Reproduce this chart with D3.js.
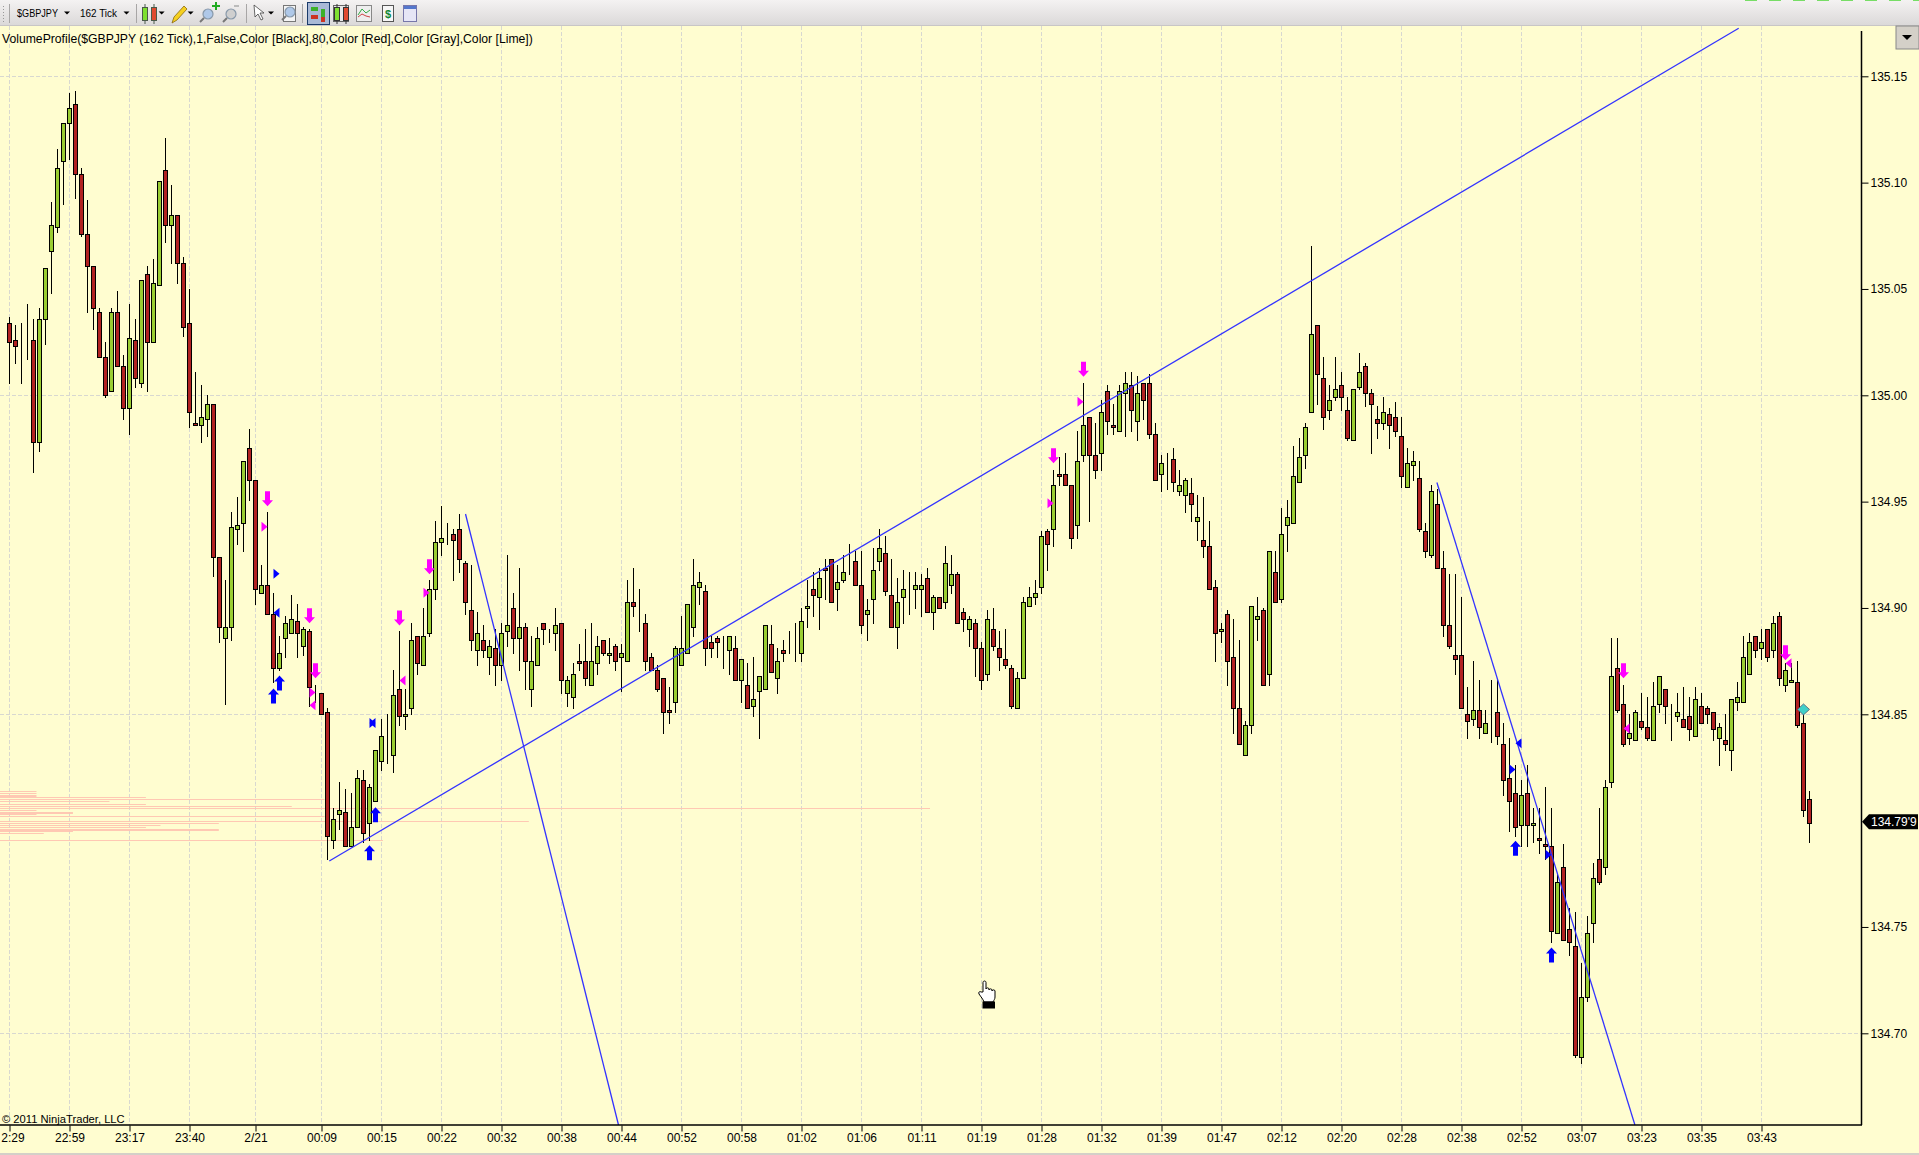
<!DOCTYPE html>
<html><head><meta charset="utf-8">
<style>html,body{margin:0;padding:0;background:#FFFDD0;overflow:hidden}svg{display:block;font-family:"Liberation Sans",Arial,sans-serif}</style>
<script src="https://cdn.jsdelivr.net/npm/d3@7"></script></head><body><svg id="c" width="1919" height="1155"></svg>
<script>
const highs=[135.037,135.033,135.034,135.043,135.036,135.041,135.060,135.091,135.116,135.128,
135.142,135.143,135.107,135.092,135.061,135.041,135.025,135.041,135.049,135.019,
135.043,135.036,135.054,135.061,135.064,135.101,135.121,135.099,135.085,135.065,
135.050,135.011,135.005,135.000,134.996,134.924,134.913,134.945,134.952,134.969,
134.984,134.960,134.920,134.945,134.907,134.887,134.896,134.906,134.902,134.891,
134.890,134.864,134.860,134.853,134.806,134.818,134.815,134.813,134.824,134.824,
134.817,134.833,134.848,134.850,134.871,134.889,134.862,134.893,134.887,134.900,
134.913,134.941,134.948,134.940,134.937,134.944,134.922,134.920,134.898,134.892,
134.885,134.890,134.893,134.925,134.907,134.919,134.893,134.887,134.891,134.893,
134.890,134.900,134.893,134.868,134.874,134.883,134.890,134.893,134.887,134.885,
134.886,134.883,134.883,134.913,134.919,134.909,134.897,134.879,134.873,134.867,
134.863,134.882,134.896,134.902,134.923,134.917,134.911,134.887,134.887,134.887,
134.887,134.887,134.876,134.874,134.877,134.868,134.892,134.892,134.881,134.885,
134.889,134.893,134.900,134.913,134.917,134.919,134.923,134.923,134.920,134.925,
134.930,134.927,134.927,134.904,134.928,134.937,134.934,134.923,134.914,134.918,
134.917,134.917,134.916,134.919,134.906,134.905,134.929,134.925,134.917,134.900,
134.896,134.895,134.884,134.899,134.900,134.889,134.890,134.873,134.870,134.905,
134.910,134.913,134.936,134.937,134.965,134.971,134.973,134.958,134.983,135.006,
134.990,134.987,134.998,135.005,134.996,135.005,135.011,135.011,135.009,135.006,
135.010,134.987,134.972,134.973,134.975,134.965,134.961,134.961,134.953,134.952,
134.941,134.913,134.893,134.899,134.895,134.885,134.847,134.901,134.905,134.900,
134.927,134.927,134.947,134.951,134.976,134.980,134.987,135.070,135.033,135.018,
135.005,135.018,135.011,134.999,135.003,135.020,135.015,135.003,134.995,134.999,
134.994,134.997,134.990,134.975,134.974,134.969,134.940,134.958,134.956,134.927,
134.916,134.916,134.905,134.863,134.875,134.866,134.852,134.866,134.866,134.846,
134.839,134.826,134.819,134.826,134.806,134.806,134.816,134.806,134.775,134.789,
134.759,134.757,134.733,134.755,134.780,134.806,134.819,134.886,134.886,134.864,
134.850,134.852,134.860,134.858,134.865,134.868,134.862,134.855,134.860,134.863,
134.858,134.863,134.860,134.854,134.851,134.846,134.850,134.857,134.865,134.887,
134.888,134.887,134.890,134.890,134.896,134.898,134.874,134.874,134.875,134.852,134.814];
const lows=[135.006,135.015,135.006,135.017,134.964,134.974,135.024,135.048,135.077,135.090,
135.111,135.093,135.075,135.039,135.031,135.018,134.999,135.002,135.014,134.989,
134.982,135.004,135.004,135.002,135.025,135.052,135.072,135.062,135.053,135.028,
134.985,134.986,134.978,134.981,134.915,134.884,134.855,134.885,134.930,134.927,
134.951,134.902,134.907,134.897,134.865,134.871,134.877,134.888,134.877,134.878,
134.854,134.856,134.850,134.782,134.787,134.796,134.788,134.788,134.797,134.790,
134.791,134.809,134.824,134.827,134.823,134.845,134.843,134.850,134.869,134.873,
134.887,134.904,134.925,134.930,134.913,134.917,134.897,134.880,134.873,134.877,
134.869,134.864,134.866,134.882,134.879,134.871,134.862,134.854,134.873,134.883,
134.884,134.880,134.860,134.854,134.853,134.871,134.864,134.864,134.869,134.878,
134.874,134.871,134.861,134.875,134.896,134.889,134.871,134.871,134.861,134.841,
134.846,134.851,134.873,134.879,134.887,134.902,134.873,134.877,134.877,134.872,
134.869,134.866,134.856,134.853,134.849,134.839,134.862,134.870,134.860,134.875,
134.879,134.875,134.875,134.891,134.896,134.890,134.904,134.903,134.899,134.912,
134.916,134.911,134.888,134.885,134.893,134.918,134.906,134.891,134.881,134.893,
134.897,134.900,134.896,134.898,134.890,134.900,134.900,134.907,134.893,134.889,
134.882,134.868,134.862,134.866,134.880,134.871,134.872,134.853,134.853,134.867,
134.901,134.902,134.907,134.918,134.929,134.958,134.958,134.928,134.933,134.969,
134.941,134.961,134.965,134.982,134.982,134.983,134.981,134.983,134.979,134.989,
134.980,134.960,134.955,134.956,134.955,134.953,134.945,134.941,134.932,134.924,
134.909,134.875,134.884,134.864,134.841,134.836,134.831,134.841,134.885,134.864,
134.864,134.903,134.903,134.927,134.940,134.959,134.966,134.992,134.996,134.984,
134.989,134.998,134.993,134.979,134.979,135.003,134.995,134.973,134.980,134.984,
134.975,134.981,134.957,134.957,134.960,134.936,134.924,134.924,134.919,134.887,
134.881,134.869,134.853,134.839,134.845,134.839,134.841,134.837,134.836,134.812,
134.795,134.793,134.788,134.788,134.790,134.785,134.782,134.743,134.747,134.744,
134.737,134.689,134.686,134.715,134.743,134.770,134.775,134.816,134.851,134.835,
134.836,134.838,134.843,134.838,134.838,134.851,134.846,134.838,134.847,134.844,
134.838,134.840,134.846,134.846,134.838,134.826,134.833,134.824,134.852,134.856,
134.869,134.877,134.876,134.875,134.877,134.864,134.861,134.865,134.844,134.802,134.790];
const opens=[135.034,135.026,135.026,135.029,135.026,134.978,135.036,135.068,135.079,135.110,
135.128,135.137,135.104,135.076,135.061,135.039,135.018,135.002,135.039,135.014,
134.994,135.026,135.006,135.057,135.025,135.052,135.106,135.080,135.085,135.062,
135.034,134.987,134.986,134.989,134.996,134.924,134.886,134.891,134.937,134.940,
134.975,134.960,134.907,134.911,134.897,134.872,134.886,134.888,134.894,134.882,
134.889,134.860,134.860,134.851,134.791,134.803,134.804,134.788,134.797,134.819,
134.799,134.809,134.828,134.835,134.831,134.862,134.849,134.853,134.887,134.873,
134.888,134.909,134.931,134.930,134.935,134.937,134.921,134.899,134.880,134.885,
134.877,134.881,134.873,134.889,134.900,134.886,134.891,134.862,134.873,134.893,
134.888,134.888,134.893,134.860,134.858,134.875,134.875,134.864,134.874,134.885,
134.878,134.882,134.877,134.875,134.903,134.896,134.893,134.877,134.871,134.867,
134.852,134.856,134.873,134.879,134.891,134.910,134.908,134.884,134.886,134.877,
134.880,134.881,134.866,134.864,134.854,134.861,134.862,134.883,134.867,134.880,
134.879,134.879,134.879,134.900,134.909,134.905,134.919,134.923,134.909,134.913,
134.919,134.922,134.911,134.897,134.904,134.922,134.926,134.906,134.891,134.905,
134.914,134.909,134.909,134.914,134.898,134.905,134.903,134.911,134.916,134.898,
134.890,134.893,134.881,134.869,134.890,134.881,134.876,134.872,134.853,134.867,
134.901,134.905,134.910,134.936,134.937,134.963,134.963,134.958,134.939,134.972,
134.990,134.972,134.973,135.002,134.986,134.983,135.001,135.005,134.988,135.006,
135.006,134.982,134.963,134.970,134.970,134.955,134.953,134.954,134.941,134.932,
134.929,134.910,134.889,134.897,134.877,134.853,134.831,134.845,134.895,134.899,
134.869,134.917,134.904,134.939,134.940,134.959,134.972,134.992,135.033,135.008,
134.993,134.999,135.005,134.993,134.979,135.004,135.014,135.001,134.989,134.987,
134.991,134.990,134.981,134.957,134.967,134.961,134.936,134.925,134.949,134.919,
134.892,134.878,134.878,134.850,134.848,134.852,134.841,134.845,134.851,134.836,
134.820,134.813,134.798,134.813,134.798,134.792,134.789,134.788,134.747,134.778,
134.749,134.741,134.689,134.717,134.752,134.782,134.778,134.818,134.872,134.855,
134.839,134.838,134.847,134.844,134.838,134.855,134.862,134.848,134.849,134.848,
134.849,134.840,134.854,134.853,134.851,134.839,134.838,134.833,134.856,134.856,
134.869,134.887,134.881,134.890,134.880,134.896,134.864,134.865,134.865,134.846,134.810];
const closes=[135.025,135.023,135.026,135.029,134.978,135.036,135.060,135.080,135.107,135.128,
135.135,135.104,135.076,135.061,135.041,135.018,135.000,135.039,135.014,134.994,
135.027,135.008,135.054,135.025,135.053,135.101,135.080,135.085,135.062,135.032,
134.992,134.986,134.990,134.996,134.924,134.891,134.891,134.938,134.939,134.969,
134.960,134.909,134.911,134.897,134.872,134.879,134.893,134.895,134.888,134.890,
134.863,134.860,134.850,134.793,134.801,134.805,134.788,134.797,134.820,134.794,
134.816,134.833,134.840,134.835,134.859,134.849,134.850,134.885,134.874,134.887,
134.909,134.931,134.933,134.930,134.932,134.923,134.903,134.885,134.888,134.880,
134.882,134.873,134.888,134.892,134.886,134.891,134.875,134.875,134.886,134.890,
134.888,134.892,134.866,134.866,134.869,134.874,134.867,134.875,134.882,134.879,
134.879,134.875,134.879,134.903,134.901,134.896,134.875,134.871,134.862,134.851,
134.851,134.881,134.881,134.902,134.911,134.912,134.881,134.881,134.884,134.877,
134.887,134.866,134.876,134.853,134.857,134.868,134.892,134.870,134.875,134.879,
134.879,134.879,134.894,134.901,134.906,134.914,134.918,134.903,134.912,134.917,
134.919,134.911,134.892,134.899,134.918,134.928,134.908,134.891,134.903,134.909,
134.914,134.911,134.911,134.898,134.905,134.900,134.921,134.916,134.893,134.895,
134.895,134.881,134.866,134.895,134.882,134.877,134.873,134.854,134.867,134.903,
134.905,134.907,134.934,134.930,134.958,134.962,134.958,134.933,134.969,134.986,
134.972,134.965,134.992,134.988,134.985,135.002,135.006,134.993,135.001,134.998,
134.982,134.960,134.968,134.970,134.959,134.958,134.960,134.949,134.943,134.929,
134.909,134.888,134.890,134.875,134.853,134.836,134.845,134.901,134.896,134.864,
134.927,134.903,134.935,134.943,134.962,134.971,134.985,135.029,135.010,134.990,
134.998,135.003,134.999,134.980,135.003,135.011,135.001,134.996,134.987,134.992,
134.986,134.983,134.962,134.968,134.969,134.937,134.927,134.955,134.919,134.892,
134.882,134.876,134.853,134.847,134.852,134.844,134.846,134.845,134.840,134.819,
134.809,134.797,134.812,134.798,134.799,134.791,134.788,134.748,134.771,134.744,
134.743,134.690,134.717,134.747,134.773,134.771,134.816,134.868,134.852,134.836,
134.841,134.851,134.844,134.839,134.854,134.868,134.854,134.848,134.851,134.844,
134.843,134.857,134.846,134.850,134.843,134.844,134.836,134.857,134.858,134.877,
134.884,134.880,134.884,134.877,134.893,134.867,134.871,134.866,134.845,134.805,134.799];

const tickBars=[0,10,20,30,41,52,62,72,82,92,102,112,122,132,142,152,162,172,182,192,202,212,222,232,242,252,262,272,282,292];
const tickLabels=["2:29","22:59","23:17","23:40","2/21","00:09","00:15","00:22","00:32","00:38","00:44","00:52","00:58","01:02","01:06","01:11","01:19","01:28","01:32","01:39","01:47","02:12","02:20","02:28","02:38","02:52","03:07","03:23","03:35","03:43"];
const priceTicks=[135.15,135.10,135.05,135.00,134.95,134.90,134.85,134.75,134.70];
const gridPrices=[135.15,135.00,134.85,134.70];
const lastPrice=134.799, lastPriceLabel="134.79'9";

const profilePrices=[134.814,134.813,134.812,134.811,134.810,134.809,134.808,134.807,134.806,134.805,134.804,134.803,134.802,134.800,134.799,134.798,134.797,134.796,134.795,134.794,134.791];
const profileVolumes=[1,1,1,4,8.9,3,4,8,25.5,1,2,1,8.9,14.5,6,4.4,4,6,2,1.2,10.5];
const profileHeavy=[134.812,134.804,134.796];

const trendLines=[[53.3,134.781,288.2,135.1726],[76.0,134.9442,101.5,134.6569],[237.9,134.959,270.9,134.6569]];
const downBars=[43,50,51,65,70,174,179,269,296];
const downPrices=[134.9478,134.8928,134.8669,134.8918,134.9158,134.968,135.0087,134.8669,134.8754];
const upBars=[44,45,60,61,251,257];
const upPrices=[134.8621,134.8683,134.7884,134.8063,134.7905,134.7404];
const magRightBars=[43,51,70,179,174];
const magRightPrices=[134.9382,134.8602,134.9072,134.997,134.9492];
const magLeftBars=[50,65,269,296];
const magLeftPrices=[134.8542,134.8659,134.8433,134.874];
const blueRightBars=[45,61,251,257];
const blueRightPrices=[134.9161,134.8459,134.8241,134.784];
const blueLeftBars=[44,60,251];
const blueLeftPrices=[134.8978,134.8459,134.8364];
const diamondBar=299, diamondPrice=134.8523;

const W=1919,H=1155,plotR=1861,plotT=26,plotB=1125;
const BG="#FFFDD0",UP="#9ACD32",DOWN="#B22222",GRID="#D8D8D0",BLUE="#3333FF",MAG="#FF00FF";
const x=d3.scaleLinear().domain([0,300]).range([9.5,1809.5]);
const y=d3.scaleLinear().domain([135.15,134.70]).range([76.3,1033.3]);
const py=v=>Math.round(y(v))+0.5;
const svg=d3.select("#c");
const defs=svg.append("defs");
const g0=defs.append("linearGradient").attr("id","tb").attr("x1",0).attr("x2",0).attr("y1",0).attr("y2",1);
g0.append("stop").attr("offset",0).attr("stop-color","#F4F2F2");
g0.append("stop").attr("offset",1).attr("stop-color","#DAD8D8");
defs.append("clipPath").attr("id","plot").append("rect").attr("x",0).attr("y",plotT).attr("width",plotR).attr("height",plotB-plotT);

svg.append("rect").attr("width",W).attr("height",H).attr("fill",BG);
// grid
const grid=svg.append("g").attr("stroke",GRID).attr("stroke-dasharray","4 2");
grid.selectAll(".v").data(tickBars).join("line").attr("x1",d=>x(d)).attr("x2",d=>x(d)).attr("y1",plotT).attr("y2",plotB);
grid.selectAll(".h").data(gridPrices).join("line").attr("x1",0).attr("x2",plotR).attr("y1",py).attr("y2",py);
// volume profile
const vx=d3.scaleLinear().domain([0,25.5]).range([0,930]);
svg.append("g").attr("fill","#FFC3B0").attr("fill-opacity",.92).selectAll("rect").data(profilePrices).join("rect")
 .attr("x",0).attr("y",d=>Math.round(y(d))).attr("height",d=>profileHeavy.includes(d)?2:1)
 .attr("width",(d,i)=>vx(profileVolumes[i]));
// candles
const bars=d3.range(highs.length);
const cg=svg.append("g").attr("clip-path","url(#plot)");
cg.append("g").attr("stroke","#000").selectAll("line").data(bars).join("line")
 .attr("x1",x).attr("x2",x).attr("y1",i=>py(highs[i])-.5).attr("y2",i=>py(lows[i])+.5);
cg.append("g").attr("stroke","#000").selectAll("rect").data(bars).join("rect")
 .attr("x",i=>x(i)-2).attr("width",4)
 .attr("y",i=>py(Math.max(opens[i],closes[i])))
 .attr("height",i=>py(Math.min(opens[i],closes[i]))-py(Math.max(opens[i],closes[i])))
 .attr("fill",i=>closes[i]>=opens[i]?UP:DOWN);
// drawn lines
cg.append("g").attr("stroke",BLUE).attr("stroke-width",1.3).selectAll("line").data(trendLines).join("line")
 .attr("x1",d=>x(d[0])).attr("y1",d=>y(d[1])).attr("x2",d=>x(d[2])).attr("y2",d=>y(d[3]));
// arrows
const dn="M-2.5,-15H2.5V-6H5.5L0,0L-5.5,-6H-2.5Z", upA="M-2.5,15H2.5V6H5.5L0,0L-5.5,6H-2.5Z";
cg.append("g").attr("fill",MAG).selectAll("path").data(downBars).join("path").attr("d",dn)
 .attr("transform",(d,i)=>`translate(${x(d)},${y(downPrices[i])})`);
cg.append("g").attr("fill","#0000FF").selectAll("path").data(upBars).join("path").attr("d",upA)
 .attr("transform",(d,i)=>`translate(${x(d)},${y(upPrices[i])})`);
const tr="M0,0L-6,-5V5Z", tl="M0,0L6,-5V5Z";
function tris(b,p,d,c){cg.append("g").attr("fill",c).selectAll("path").data(b).join("path").attr("d",d)
 .attr("transform",(v,i)=>`translate(${x(v)},${y(p[i])})`);}
tris(magRightBars,magRightPrices,tr,MAG);tris(magLeftBars,magLeftPrices,tl,MAG);
tris(blueRightBars,blueRightPrices,tr,"#0000FF");tris(blueLeftBars,blueLeftPrices,tl,"#0000FF");
cg.append("path").attr("d","M0,-5.5L6,0L0,5.5L-6,0Z").attr("fill","#40D0C8").attr("stroke","#557").attr("stroke-width",.8)
 .attr("transform",`translate(${x(diamondBar)},${y(diamondPrice)})`);
// axes
const xAxis=d3.axisBottom(x).tickValues(tickBars).tickFormat((d,i)=>tickLabels[i]).tickSize(6).tickSizeOuter(0);
const ax=svg.append("g").attr("transform",`translate(0,${plotB+.5})`).call(xAxis);
ax.select(".domain").remove();
ax.selectAll("text").attr("font-size",12).attr("font-family",'"Liberation Sans"').attr("fill","#000").attr("y",8)
 .attr("dx",(d,i)=>i===0?3:0);
ax.selectAll("line").attr("stroke","#000");
const yAxis=d3.axisRight(y).tickValues(priceTicks).tickFormat(d3.format(".2f")).tickSize(7).tickSizeOuter(0);
const ay=svg.append("g").attr("transform",`translate(${plotR+.5},0)`).call(yAxis);
ay.select(".domain").remove();
ay.selectAll("text").attr("font-size",12).attr("font-family",'"Liberation Sans"').attr("fill","#000").attr("x",9);
ay.selectAll("line").attr("stroke","#000");
svg.append("line").attr("x1",0).attr("x2",plotR+1).attr("y1",plotB).attr("y2",plotB).attr("stroke","#000").attr("stroke-width",1.5);
svg.append("line").attr("x1",plotR+.5).attr("x2",plotR+.5).attr("y1",31).attr("y2",plotB).attr("stroke","#000").attr("stroke-width",1.5);
// last price tag
const ly=y(lastPrice)-1;
svg.append("path").attr("d",`M${plotR+1},${ly}L${plotR+8},${ly-7.5}H1918V${ly+7.5}H${plotR+8}Z`).attr("fill","#000");
svg.append("text").attr("x",plotR+10).attr("y",ly+4.5).attr("font-size",12).attr("fill","#fff").text(lastPriceLabel);
// captions
svg.append("text").attr("x",2).attr("y",43).attr("font-size",12.2).attr("fill","#000").text("VolumeProfile($GBPJPY (162 Tick),1,False,Color [Black],80,Color [Red],Color [Gray],Color [Lime])");
svg.append("text").attr("x",2).attr("y",1123).attr("font-size",11.2).attr("fill","#000").text("© 2011 NinjaTrader, LLC");
// bottom strip
svg.append("rect").attr("y",1153).attr("width",W).attr("height",2).attr("fill","#D4D0C8");
// toolbar
const tb=svg.append("g");
tb.append("rect").attr("width",W).attr("height",26).attr("fill","url(#tb)");
tb.append("rect").attr("y",25).attr("width",W).attr("height",1).attr("fill","#C8C6C6");
d3.range(1745,1919,24).forEach(v=>tb.append("rect").attr("x",v).attr("y",0).attr("width",12).attr("height",1).attr("fill","#77DD66"));
const caret=v=>tb.append("path").attr("d",`M${v-3},11.5h6l-3,3z`).attr("fill","#000");
const sep=v=>tb.append("line").attr("x1",v+.5).attr("x2",v+.5).attr("y1",4).attr("y2",23).attr("stroke","#A8A6A6");
[9,136,246,302].forEach(sep);
tb.append("line").attr("x1",3.5).attr("x2",3.5).attr("y1",6).attr("y2",22).attr("stroke","#999").attr("stroke-dasharray","1 2");
tb.append("text").attr("x",17).attr("y",17).attr("font-size",11).attr("textLength",41).attr("lengthAdjust","spacingAndGlyphs").text("$GBPJPY");
tb.append("text").attr("x",80).attr("y",17).attr("font-size",11).attr("textLength",37).attr("lengthAdjust","spacingAndGlyphs").text("162 Tick");
[67,126.5,161.6,190.6,271].forEach(caret);
function mini(ox,c1,c2,st){
 tb.append("line").attr("x1",ox+3).attr("x2",ox+3).attr("y1",4).attr("y2",24).attr("stroke",st);
 tb.append("rect").attr("x",ox+.5).attr("y",7.5).attr("width",5).attr("height",13).attr("fill",c1).attr("stroke",st);
 tb.append("line").attr("x1",ox+12).attr("x2",ox+12).attr("y1",4).attr("y2",24).attr("stroke",st);
 tb.append("rect").attr("x",ox+9.5).attr("y",7.5).attr("width",5).attr("height",13).attr("fill",c2).attr("stroke",st);
}
mini(142,"#7FE030","#E04A30","#4A5A4A");
tb.append("path").attr("d","M172,23l2,-6l10,-11l3,3l-10,11z").attr("fill","#F5D020").attr("stroke","#8A6A10").attr("stroke-width",.8);
function lens(cx,cy,c){tb.append("circle").attr("cx",cx).attr("cy",cy).attr("r",5).attr("fill",c).attr("stroke","#8899AA").attr("stroke-width",1.2);
 tb.append("line").attr("x1",cx-4).attr("y1",cy+4).attr("x2",cx-8).attr("y2",cy+8).attr("stroke","#777").attr("stroke-width",2);}
lens(208,14,"#AFC8E8");tb.append("path").attr("d","M212,5h3V2h2v3h3v2h-3v3h-2V7h-3z").attr("fill","#22AA22");
lens(231,14,"#CFCFCF");tb.append("line").attr("x1",234).attr("x2",239).attr("y1",6).attr("y2",6).attr("stroke","#BBB").attr("stroke-width",2);
tb.append("path").attr("d","M254,5l10,8h-4l3,6l-2,1l-3,-6l-3,3z").attr("fill","#FFF").attr("stroke","#444").attr("stroke-width",.8);
tb.append("rect").attr("x",283.5).attr("y",5.5).attr("width",12).attr("height",16).attr("fill","#F4F4F4").attr("stroke","#777");
lens(290,12,"#AFC8E8");
tb.append("rect").attr("x",307.5).attr("y",2.5).attr("width",22).attr("height",22).attr("fill","#A9B9D6").attr("stroke","#1A3A6A");
tb.append("rect").attr("x",311).attr("y",7).attr("width",7).attr("height",4).attr("fill","#3CB02A");
tb.append("rect").attr("x",311).attr("y",15).attr("width",7).attr("height",4).attr("fill","#CC3322");
tb.append("rect").attr("x",321).attr("y",9).attr("width",4).attr("height",13).attr("fill","#3CB02A");
tb.append("rect").attr("x",321).attr("y",17).attr("width",4).attr("height",5).attr("fill","#CC3322");
tb.append("rect").attr("x",333.5).attr("y",5.5).attr("width",15).attr("height",16).attr("fill","#E8E8E8").attr("stroke","#666");
mini(334,"#7FE030","#E04A30","#333");
tb.append("rect").attr("x",356.5).attr("y",5.5).attr("width",15).attr("height",16).attr("fill","#EEE").attr("stroke","#888");
tb.append("path").attr("d","M358,15l4,-6l4,4l4,-3").attr("fill","none").attr("stroke","#33AA44");
tb.append("path").attr("d","M358,17l4,-3l4,2l4,1").attr("fill","none").attr("stroke","#CC4444");
tb.append("rect").attr("x",382.5).attr("y",5.5).attr("width",11).attr("height",16).attr("fill","#F6F6F6").attr("stroke","#555");
tb.append("text").attr("x",388).attr("y",18).attr("text-anchor","middle").attr("font-size",11).attr("font-weight","bold").attr("fill","#118833").text("$");
tb.append("rect").attr("x",403.5).attr("y",5.5).attr("width",13).attr("height",16).attr("fill","#E6E6F6").attr("stroke","#7777AA");
tb.append("rect").attr("x",404).attr("y",6).attr("width",12).attr("height",3).attr("fill","#5577CC");
// right-side scroll button
svg.append("rect").attr("x",1896).attr("y",26).attr("width",23).attr("height",23).attr("fill","#D4D0C8").attr("stroke","#888");
svg.append("path").attr("d","M1902,35h10l-5,5z").attr("fill","#000");
// hand cursor
const hand=svg.append("g").attr("transform","translate(979,980)");
hand.append("path").attr("d","M4,12V2.5c0-2,3-2,3,0V9c0-1.5,3-1.5,3,0v1c0-1.5,3-1.5,3,0v1c0-1.5,3-1.5,3,0v6c0,2-1,3-2,5H5c-1-3-3-5-5-8c-1-2,1-3,2-2z").attr("fill","#FFF").attr("stroke","#000");
hand.append("rect").attr("x",3.5).attr("y",21.5).attr("width",12.5).attr("height",7).attr("fill","#000");
</script></body></html>
